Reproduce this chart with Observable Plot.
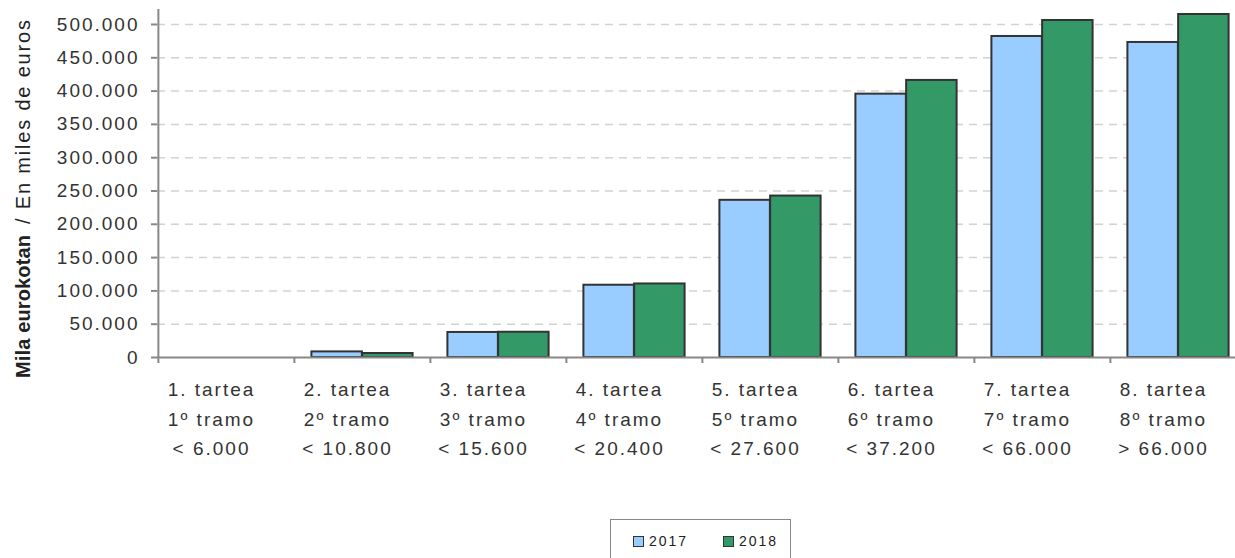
<!DOCTYPE html>
<html>
<head>
<meta charset="utf-8">
<script src="https://cdn.jsdelivr.net/npm/d3@7"></script>
<script src="https://cdn.jsdelivr.net/npm/@observablehq/plot@0.6"></script>
<style>
  html, body { margin: 0; padding: 0; background: white; overflow: hidden; }
  #wrap { position: relative; width: 1235px; height: 558px; font-family: 'Liberation Sans', Arial, sans-serif; }
  #legend { position: absolute; left: 610px; top: 519px; width: 181px; height: 60px; border: 1px solid #888; box-sizing: border-box; }
  .item { position: absolute; top: 13px; display: flex; align-items: center; font-size: 14px; letter-spacing: 2px; color: #222; }
  .sw { width: 9px; height: 9px; border: 1.5px solid #333; margin-right: 5px; }
</style>
</head>
<body>
<div id="wrap"></div>
<script>
// ---- data ----
const tramoLine1 = ["1. tartea", "2. tartea", "3. tartea", "4. tartea", "5. tartea", "6. tartea", "7. tartea", "8. tartea"];
const tramoLine2 = ["1º tramo", "2º tramo", "3º tramo", "4º tramo", "5º tramo", "6º tramo", "7º tramo", "8º tramo"];
const tramoLine3 = ["< 6.000", "< 10.800", "< 15.600", "< 20.400", "< 27.600", "< 37.200", "< 66.000", "> 66.000"];
const years = ["2017", "2018"];
const colors = ["#99CCFF", "#339966"];
const values2017 = [0, 8400, 37600, 108500, 236000, 395400, 482000, 473000];
const values2018 = [0, 6000, 37900, 110400, 242400, 416000, 506000, 515000];
const yTicks = [0, 50000, 100000, 150000, 200000, 250000, 300000, 350000, 400000, 450000, 500000];

const rows = (vals, year) => tramoLine1.map((c, i) => ({cat: c, value: vals[i], year}));
const r2017 = rows(values2017, "2017").filter(d => d.value > 0);
const r2018 = rows(values2018, "2018").filter(d => d.value > 0);
const labelOf = Object.fromEntries(tramoLine1.map((c, i) => [c, c + "\n" + tramoLine2[i] + "\n" + tramoLine3[i]]));
const fmt = v => d3.format(",")(v).replace(/,/g, ".");

const half = (1247 - 157) / tramoLine1.length / 2;

const chart = Plot.plot({
  width: 1235,
  height: 470,
  marginTop: 9,
  marginLeft: 157,
  marginRight: 0,
  marginBottom: 113,
  x: {domain: tramoLine1, range: [157, 1247], padding: 0, axis: null, label: null},
  y: {domain: [0, 522500], axis: null, label: null},
  style: {fontFamily: "'Liberation Sans', Arial, sans-serif", fontSize: "19px", letterSpacing: "2px", color: "#333", background: "white", overflow: "hidden"},
  marks: [
    Plot.gridY(yTicks.filter(v => v > 0), {stroke: "#d2d2d2", strokeOpacity: 1, strokeWidth: 1.5, strokeDasharray: "8,6"}),
    Plot.barY(r2017, {x: "cat", y: "value", fill: colors[0], stroke: "#333", strokeWidth: 2, insetLeft: 17.4, insetRight: half}),
    Plot.barY(r2018, {x: "cat", y: "value", fill: colors[1], stroke: "#333", strokeWidth: 2, insetLeft: half, insetRight: 17.4}),
    Plot.ruleY([0], {stroke: "#888", strokeWidth: 2}),
    Plot.ruleX([tramoLine1[0]], {y1: 0, y2: 522500, dx: -half, stroke: "#888", strokeWidth: 2}),
    Plot.axisX({tickSize: 6, text: null, label: null, dx: -half, stroke: "#888", strokeWidth: 2}),
    Plot.axisX({tickSize: 0, tickPadding: 18, label: null, tickFormat: d => labelOf[d], lineHeight: 1.54, dx: -15, fill: "#333"}),
    Plot.axisY({ticks: yTicks, label: null, tickSize: 6, tickPadding: 12, tickFormat: fmt, stroke: "#888", strokeWidth: 2, fill: "#333"})
  ]
});

// y-axis title with mixed weights
const svg = d3.select(chart);
const t = svg.append("text")
  .attr("transform", "translate(30,378) rotate(-90)")
  .attr("font-size", 20)
  .attr("fill", "#222")
  .attr("text-anchor", "start")
  .style("letter-spacing", "0px");
t.append("tspan").attr("x", 0).attr("font-weight", "bold").attr("textLength", 143).attr("lengthAdjust", "spacing").text("Mila eurokotan");
t.append("tspan").attr("x", 154).attr("textLength", 204).attr("lengthAdjust", "spacing").text("/ En miles de euros");

const wrap = document.getElementById("wrap");
wrap.appendChild(chart);

// legend
const legend = document.createElement("div");
legend.id = "legend";
const lefts = [22, 112];
years.forEach((y, i) => {
  const it = document.createElement("div");
  it.className = "item";
  it.style.left = lefts[i] + "px";
  const sw = document.createElement("div");
  sw.className = "sw";
  sw.style.background = colors[i];
  it.appendChild(sw);
  const tx = document.createElement("span");
  tx.textContent = y;
  it.appendChild(tx);
  legend.appendChild(it);
});
wrap.appendChild(legend);
</script>
</body>
</html>
